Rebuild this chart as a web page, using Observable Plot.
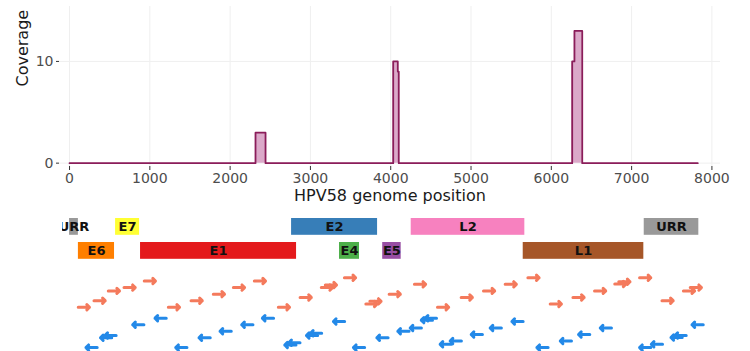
<!DOCTYPE html>
<html>
<head>
<meta charset="utf-8">
<script src="https://cdn.jsdelivr.net/npm/d3@7"></script>
<script src="https://cdn.jsdelivr.net/npm/@observablehq/plot@0.6"></script>
<style>
  html, body { margin: 0; padding: 0; background: #fff; }
  #chart svg { display: block; }
</style>
</head>
<body>
<div id="chart"></div>
<script>
// Coverage breakpoints (genome position, coverage from that position on)
const covPos = [0, 2316, 2441, 4031, 4088, 4100, 6260, 6288, 6385, 7824];
const covVal = [0, 3, 0, 10, 9, 0, 10, 13, 0, 0];
const xTicks = [0, 1000, 2000, 3000, 4000, 5000, 6000, 7000, 8000];
const yTicks = [0, 10];

// Gene annotation
const geneName  = ["URR", "E7", "E2", "L2", "URR", "E6", "E1", "E4", "E5", "L1"];
const geneStart = [0, 573, 2765, 4255, 7157, 110, 884, 3362, 3900, 5650];
const geneEnd   = [110, 872, 3836, 5670, 7837, 560, 2827, 3611, 4130, 7152];
const geneRow   = [0, 0, 0, 0, 0, 1, 1, 1, 1, 1];
const geneColor = ["#999999", "#ffff33", "#377eb8", "#f781bf", "#999999",
                   "#ff7f00", "#e41a1c", "#4daf4a", "#984ea3", "#a65628"];

// Reads: centre position and stacking row
const fwdCenter = [178, 374, 552, 748, 1000, 1300, 1583, 1860, 2110, 2371, 2670, 2941, 3205, 3255, 3493,
                   3760, 3810, 4050, 4365, 4652, 4947, 5225, 5495, 5778, 6056, 6339, 6608, 6860, 6910,
                   7169, 7448, 7715, 7800];
const fwdRow    = [9, 7, 4, 3, 1, 9, 7, 5, 3, 1, 9, 6, 3, 2.2, 0,
                   8, 7.2, 5, 2, 9, 6, 4, 2, 0, 8, 6, 4, 1.9, 1.2,
                   0, 7, 4, 3];
const revCenter = [274, 455, 510, 856, 1134, 1392, 1682, 1944, 2214, 2471, 2750, 2800, 3020, 3070, 3356,
                   3605, 3897, 4158, 4312, 4450, 4500, 4685, 4810, 5072, 5308, 5579, 5890, 6181, 6409,
                   6679, 7169, 7315, 7560, 7610, 7822];
const revRow    = [9, 6, 5.3, 2, 0, 9, 6, 4, 2, 0, 8.2, 7.5, 5.3, 4.6, 1,
                   9, 6, 4, 3, 0.6, 0, 8, 7, 5, 3, 1, 9, 7, 5,
                   3, 9, 8, 5.9, 5.3, 2];
const readLen = 140;

const cov = covPos.map((p, i) => ({pos: p, val: covVal[i]}));
const genes = geneName.map((n, i) => ({name: n, start: geneStart[i], end: geneEnd[i], row: geneRow[i], color: geneColor[i]}));
const fwd = fwdCenter.map((c, i) => ({c, row: fwdRow[i]}));
const rev = revCenter.map((c, i) => ({c, row: revRow[i]}));

const font = "DejaVu Sans, Liberation Sans, sans-serif";

const covPlot = Plot.plot({
  width: 750, height: 210,
  marginLeft: 59, marginRight: 30, marginTop: 6, marginBottom: 44,
  x: {domain: [-125, 8107]},
  y: {domain: [-0.33, 15.4]},
  style: {fontFamily: font, background: "#fff", overflow: "visible"},
  marks: [
    Plot.gridX(xTicks, {stroke: "#efefef", strokeOpacity: 1}),
    Plot.gridY(yTicks, {stroke: "#efefef", strokeOpacity: 1}),
    Plot.areaY(cov, {x: "pos", y: "val", curve: "step-after", fill: "#dba9c9"}),
    Plot.lineY(cov, {x: "pos", y: "val", curve: "step-after", stroke: "#8b1d5a", strokeWidth: 1.8}),
    Plot.axisX(xTicks, {tickSize: 4, tickPadding: 3, fontSize: 14, fill: "#4d4d4d", stroke: "#333",
      tickFormat: d => String(d), label: null}),
    Plot.axisY(yTicks, {tickSize: 3, tickPadding: 3, fontSize: 14, fill: "#4d4d4d", stroke: "#333",
      tickFormat: d => String(d), label: null}),
    Plot.text(["HPV58 genome position"], {frameAnchor: "bottom", dy: 34, fontSize: 16, fill: "#1a1a1a"}),
    Plot.text(["Coverage"], {frameAnchor: "left", dx: -37, rotate: -90, fontSize: 16, fill: "#1a1a1a"})
  ]
});

const genePlot = Plot.plot({
  width: 750, height: 55,
  marginLeft: 62, marginRight: 30, marginTop: 8, marginBottom: 6,
  x: {domain: [-88, 8107], axis: null},
  y: {domain: [0, 1.7083], reverse: true, axis: null},
  color: {type: "identity"},
  style: {fontFamily: font, background: "#fff"},
  marks: [
    Plot.rect(genes, {x1: "start", x2: "end", y1: "row", y2: d => d.row + 0.7, fill: "color"}),
    Plot.text(genes, {x: d => (d.start + d.end) / 2, y: d => d.row + 0.35, text: "name",
      fontWeight: "bold", fontSize: 13, fill: "#111", clip: true})
  ]
});

const readPlot = Plot.plot({
  width: 750, height: 86,
  marginLeft: 62, marginRight: 30, marginTop: 12.3, marginBottom: 3.9,
  x: {domain: [-88, 8107], axis: null},
  y: {domain: [0, 21.35], reverse: true, axis: null},
  style: {fontFamily: font, background: "#fff"},
  marks: [
    Plot.arrow(fwd, {x1: d => d.c - readLen / 2, x2: d => d.c + readLen / 2, y1: "row", y2: "row",
      stroke: "#f47a5c", strokeWidth: 3, headLength: 4, headAngle: 90}),
    Plot.arrow(rev, {x1: d => d.c + readLen / 2, x2: d => d.c - readLen / 2, y1: d => d.row + 12.35, y2: d => d.row + 12.35,
      stroke: "#2389e8", strokeWidth: 3, headLength: 4, headAngle: 90})
  ]
});

const el = document.getElementById("chart");
el.append(covPlot, genePlot, readPlot);
</script>
</body>
</html>
